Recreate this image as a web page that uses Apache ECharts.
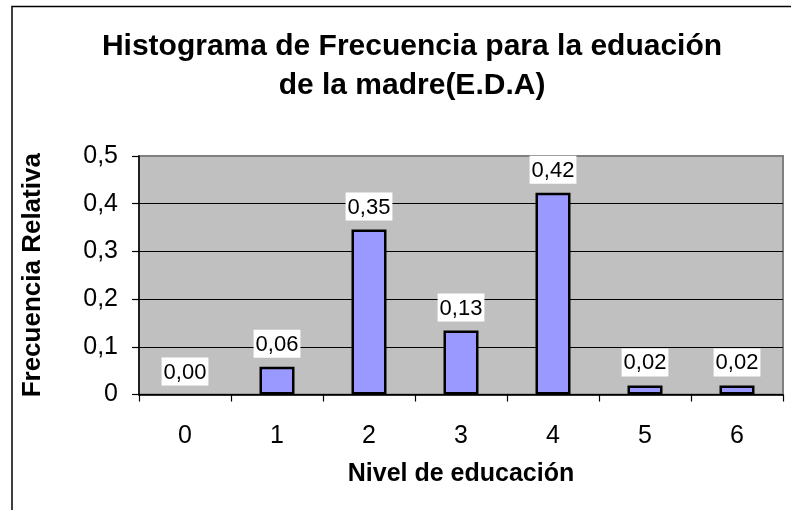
<!DOCTYPE html>
<html>
<head>
<meta charset="utf-8">
<script src="https://cdn.jsdelivr.net/npm/echarts@6/dist/echarts.min.js"></script>
<style>
html,body{margin:0;padding:0;background:#fff;}
#c{width:791px;height:510px;}
</style>
</head>
<body>
<div id="c"></div>
<script>
const titleLines = ['Histograma de Frecuencia para la eduación', 'de la madre(E.D.A)'];
const categories = ['0', '1', '2', '3', '4', '5', '6'];
const relFreq = [0.0, 0.058, 0.346, 0.134, 0.423, 0.019, 0.019];
const yTicks = [0, 0.1, 0.2, 0.3, 0.4, 0.5];
const xName = 'Nivel de educación';
const yName = 'Frecuencia Relativa';

const FONT = '"Liberation Sans", Arial, sans-serif';
const fmt = v => v === 0 ? '0' : String(v).replace('.', ',');

const barData = relFreq.map(v => v === 0 ? {value: v, itemStyle: {borderWidth: 0}} : v);

const chart = echarts.init(document.getElementById('c'), null, {renderer: 'canvas'});
chart.setOption({
  animation: false,
  backgroundColor: '#fff',
  textStyle: {fontFamily: FONT},
  graphic: [{
    type: 'rect', silent: true, z: -10,
    shape: {x: 12, y: 6.5, width: 800, height: 520},
    style: {fill: 'none', stroke: '#000', lineWidth: 1.5}
  }],
  title: {
    text: titleLines.join('\n'),
    left: 407, top: 22, textAlign: 'center',
    textStyle: {fontFamily: FONT, fontSize: 30, fontWeight: 'bold', color: '#000', lineHeight: 39}
  },
  grid: {
    left: 139, right: 8, top: 156, bottom: 115.5,
    show: true, backgroundColor: '#C0C0C0', borderColor: '#808080', borderWidth: 2
  },
  xAxis: {
    type: 'category',
    data: categories,
    name: xName, nameLocation: 'middle', nameGap: 67,
    nameTextStyle: {fontFamily: FONT, fontSize: 25, fontWeight: 'bold', color: '#000'},
    axisLine: {lineStyle: {color: '#000', width: 1.5}},
    axisTick: {show: true, length: 7, lineStyle: {color: '#000', width: 1.2}},
    axisLabel: {fontFamily: FONT, fontSize: 25, color: '#000', margin: 29}
  },
  yAxis: {
    type: 'value', min: yTicks[0], max: yTicks[yTicks.length - 1], interval: 0.1,
    name: yName, nameLocation: 'middle', nameGap: 93, nameRotate: 90,
    nameTextStyle: {fontFamily: FONT, fontSize: 26, fontWeight: 'bold', color: '#000'},
    axisLine: {show: true, lineStyle: {color: '#000', width: 1.5}},
    axisTick: {show: true, length: 7, lineStyle: {color: '#000', width: 1.2}},
    axisLabel: {fontFamily: FONT, fontSize: 25, color: '#000', margin: 21, formatter: fmt},
    splitLine: {show: true, lineStyle: {color: ['#000', '#000', '#000', '#000', '#000', '#808080'], width: 1}}
  },
  series: [{
    type: 'bar',
    data: barData,
    barWidth: 35,
    itemStyle: {color: '#9999FF', borderColor: '#000', borderWidth: 2.5},
    label: {
      show: true, position: 'top', distance: 9,
      fontFamily: FONT, fontSize: 22, color: '#000',
      backgroundColor: '#fff', padding: [4, 2, 2, 2],
      formatter: p => p.value.toFixed(2).replace('.', ',')
    }
  }]
});
</script>
</body>
</html>
